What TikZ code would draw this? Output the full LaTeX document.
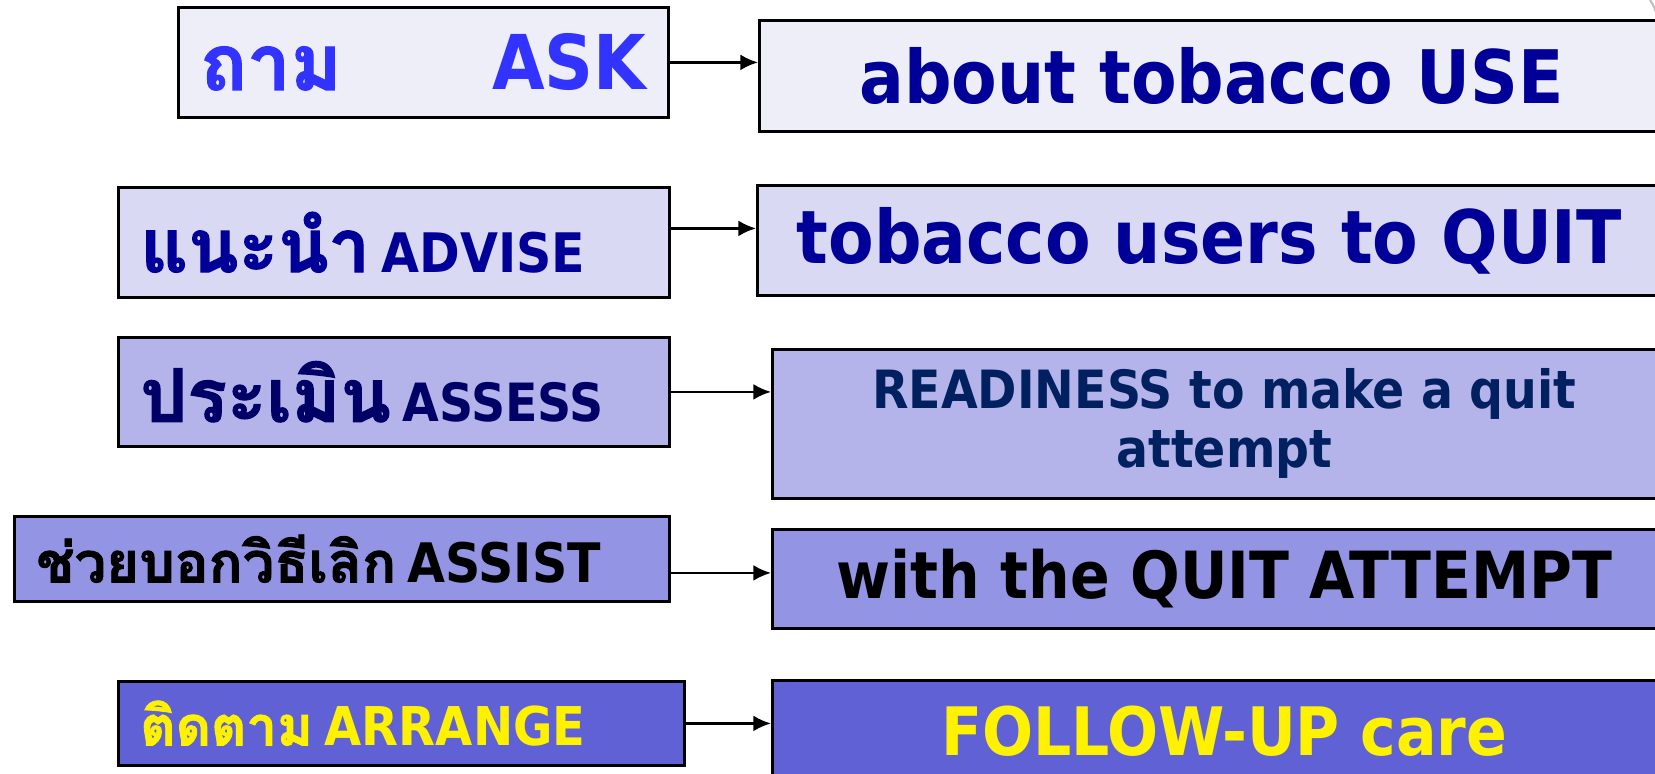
\documentclass[tikz,border=0pt]{standalone}
\usepackage{fontspec}
\setmainfont{DejaVu Sans Condensed}[BoldFont={DejaVu Sans Condensed Bold}]
\newfontfamily\thaifont[Script=Thai, FakeBold=1.6]{Loma}
\usetikzlibrary{arrows.meta}
\usepackage{xcolor}

\definecolor{fillA}{HTML}{EEEEF9}
\definecolor{fillB}{HTML}{D9D9F3}
\definecolor{fillC}{HTML}{B4B4EB}
\definecolor{fillD}{HTML}{9494E4}
\definecolor{fillE}{HTML}{6161D6}
\definecolor{askblue}{HTML}{3333FF}
\definecolor{navy}{HTML}{000099}
\definecolor{deepnavy}{HTML}{000066}
\definecolor{readyblue}{HTML}{002060}

\tikzset{
  stepbox/.style={draw=black, line width=0.8pt, rectangle, anchor=north west,
    inner ysep=0pt, font=\bfseries},
  leftbox/.style={stepbox, inner xsep=0.22cm, align=left},
  rightbox/.style={stepbox, inner xsep=0pt, align=center, minimum width=9.04cm},
  arr/.style={line width=0.7pt, -{Latex[length=5pt,width=4.5pt]}}
}

\newcommand{\fs}[1]{\fontsize{#1}{1.12\dimexpr #1pt\relax}\selectfont}

\begin{document}
\begin{tikzpicture}[x=1cm, y=-1cm]

% page size of the slide
\useasboundingbox (0,0) rectangle (16.55,7.73);
\clip (0,0) rectangle (16.55,7.73);

% ASK
\node[leftbox, fill=fillA, text=askblue, text width=4.46cm, minimum height=1.10cm]
  (l1) at (1.77,0.06) {{\thaifont\fs{22}ถาม}\hfill{\fs{21.5}ASK}};
\node[rightbox, fill=fillA, text=navy, minimum height=1.11cm]
  (r1) at (7.58,0.19) {\fs{21}about tobacco USE};

% ADVISE
\node[leftbox, fill=fillB, text=navy, text width=5.07cm, minimum height=1.10cm]
  (l2) at (1.17,1.86) {{\thaifont\fs{21}แนะนำ} {\fs{15.5}ADVISE}};
\node[rightbox, fill=fillB, text=navy, minimum height=1.10cm]
  (r2) at (7.56,1.84) {\fs{21}tobacco users to QUIT};

% ASSESS
\node[leftbox, fill=fillC, text=deepnavy, text width=5.07cm, minimum height=1.09cm]
  (l3) at (1.17,3.36) {{\thaifont\fs{21}ประเมิน} {\fs{15}ASSESS}};
\node[rightbox, fill=fillC, text=readyblue, minimum height=1.49cm,
  font=\bfseries\fontsize{15}{16.8}\selectfont]
  (r3) at (7.71,3.48) {READINESS to make a quit\\attempt};

% ASSIST
\node[leftbox, fill=fillD, text=black, text width=6.11cm, minimum height=0.85cm]
  (l4) at (0.13,5.15) {{\thaifont\fs{16}ช่วยบอกวิธีเลิก} {\fs{15.5}ASSIST}};
\node[rightbox, fill=fillD, text=black, minimum height=0.99cm]
  (r4) at (7.71,5.28) {\fs{18.5}with the QUIT ATTEMPT};

% ARRANGE
\node[leftbox, fill=fillE, text=yellow, text width=5.22cm, minimum height=0.84cm]
  (l5) at (1.17,6.80) {{\thaifont\fs{15.5}ติดตาม} {\fs{15.2}ARRANGE}};
\node[rightbox, fill=fillE, text=yellow, minimum height=1.02cm]
  (r5) at (7.71,6.79) {\fs{19}FOLLOW-UP care};

% arrows between the two columns
\draw[arr] (l1.east) -- (l1.east -| r1.west);
\draw[arr] ([yshift=0.14cm]l2.east) -- ([yshift=0.14cm]l2.east -| r2.west);
\draw[arr] (l3.east) -- (l3.east -| r3.west);
\draw[arr] ([yshift=-0.14cm]l4.east) -- ([yshift=-0.14cm]l4.east -| r4.west);
\draw[arr] (l5.east) -- (l5.east -| r5.west);

% edge of a shape cut off at the top right
\draw[gray!50, line width=0.6pt] (16.50,0) to[bend left=10] (16.57,0.16);

\end{tikzpicture}
\end{document}
